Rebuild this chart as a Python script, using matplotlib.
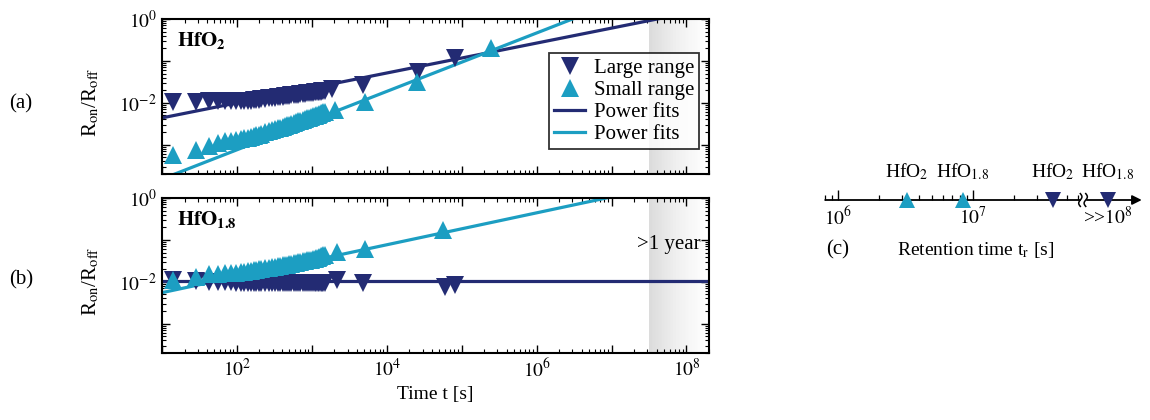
import numpy as np
import matplotlib
matplotlib.use("Agg")
import matplotlib.pyplot as plt
from matplotlib.lines import Line2D
from matplotlib.ticker import FixedLocator, FuncFormatter, LogLocator, NullFormatter

plt.rcParams['font.family'] = ['Liberation Serif', 'DejaVu Serif']
plt.rcParams['mathtext.fontset'] = 'stix'
plt.rcParams['axes.unicode_minus'] = False

NAVY = '#232b73'
TEAL = '#1c9ec2'

# ---- data ----
# dense early measurement times [s], shared by all four series
t_dense = [14, 28, 42, 56, 70, 84, 98, 112, 126, 140, 154, 168, 182, 196, 210,
           238, 266, 294, 322, 350, 378, 406, 434, 462, 490, 532, 574, 616, 658,
           700, 756, 812, 868, 924, 980, 1036, 1092, 1148, 1204, 1260, 1316,
           1372, 1428, 1484]

# (a) HfO2
a_large_dense = [0.0105, 0.0107, 0.0108, 0.0110, 0.0110, 0.0111, 0.0111, 0.0112,
                 0.0112, 0.0112, 0.0113, 0.0114, 0.0116, 0.0118, 0.0120, 0.0124,
                 0.0127, 0.0130, 0.0133, 0.0135, 0.0138, 0.0140, 0.0143, 0.0145,
                 0.0147, 0.0150, 0.0152, 0.0155, 0.0157, 0.0160, 0.0163, 0.0165,
                 0.0168, 0.0171, 0.0173, 0.0175, 0.0177, 0.0180, 0.0182, 0.0183,
                 0.0185, 0.0187, 0.0189, 0.0191]
a_large_t = [1850, 4800, 26000, 81000]
a_large = [0.0215, 0.027, 0.055, 0.118]

a_small_dense = [5.75e-4, 7.6e-4, 9.5e-4, 1.12e-3, 1.20e-3, 1.26e-3, 1.32e-3,
                 1.37e-3, 1.42e-3, 1.46e-3, 1.52e-3, 1.60e-3, 1.67e-3, 1.75e-3,
                 1.82e-3, 1.96e-3, 2.09e-3, 2.22e-3, 2.34e-3, 2.46e-3, 2.57e-3,
                 2.69e-3, 2.79e-3, 2.90e-3, 3.01e-3, 3.17e-3, 3.32e-3, 3.47e-3,
                 3.60e-3, 3.74e-3, 3.93e-3, 4.10e-3, 4.27e-3, 4.44e-3, 4.59e-3,
                 4.75e-3, 4.91e-3, 5.06e-3, 5.24e-3, 5.42e-3, 5.61e-3, 5.81e-3,
                 6.00e-3, 6.18e-3]
a_small_t = [2050, 5100, 25000, 250000]
a_small = [0.0068, 0.0107, 0.032, 0.2]

# (b) HfO1.8
b_large_dense = [0.0112, 0.0105, 0.0100, 0.0098, 0.0097, 0.0097, 0.0096, 0.0096,
                 0.0096, 0.0095, 0.0095, 0.0095, 0.0095, 0.0095, 0.0095, 0.0095,
                 0.0095, 0.0095, 0.0095, 0.0095, 0.0095, 0.0095, 0.0095, 0.0095,
                 0.0095, 0.0095, 0.0095, 0.0095, 0.0095, 0.0095, 0.0095, 0.0095,
                 0.0095, 0.0095, 0.0095, 0.0095, 0.0095, 0.0095, 0.0095, 0.0095,
                 0.0095, 0.0095, 0.0095, 0.0095]
b_large_t = [2140, 4800, 59000, 81000]
b_large = [0.0112, 0.0093, 0.0077, 0.0085]

b_small_dense = [0.0112, 0.0132, 0.0151, 0.0155, 0.0158, 0.0161, 0.0163, 0.0169,
                 0.0175, 0.0180, 0.0186, 0.0190, 0.0195, 0.0199, 0.0203, 0.0210,
                 0.0217, 0.0223, 0.0230, 0.0235, 0.0240, 0.0245, 0.0251, 0.0258,
                 0.0263, 0.0271, 0.0279, 0.0286, 0.0293, 0.0300, 0.0309, 0.0317,
                 0.0325, 0.0333, 0.0340, 0.0347, 0.0354, 0.0361, 0.0378, 0.0390,
                 0.0402, 0.0414, 0.0427, 0.0437]
b_small_t = [2140, 5100, 56000]
b_small = [0.051, 0.061, 0.17]

# power fits R = A * t^b  -> (A, b)
a_large_fit = (1.92e-3, 0.357)
a_small_fit = (3.05e-5, 0.697)
b_large_fit = (1.057e-2, 0.0)
b_small_fit = (2.29e-3, 0.381)

one_year = 3.15e7

# (c) retention times [s]
c_times = [3.24e6, 8.4e6, 3.9e7, 1.0e8]
c_labels = [r'HfO$_2$', r'HfO$_{1.8}$', r'HfO$_2$', r'HfO$_{1.8}$']
c_colors = [TEAL, TEAL, NAVY, NAVY]
c_markers = ['^', '^', 'v', 'v']

# ---- figure ----
W, H = 1150, 420
fig = plt.figure(figsize=(W / 100, H / 100), dpi=100)


def px_axes(left, top, right, bottom):
    return fig.add_axes([left / W, 1 - bottom / H, (right - left) / W, (bottom - top) / H])


ax_a = px_axes(162, 19, 709, 174)
ax_b = px_axes(162, 198, 709, 353)

t_fit = np.array([10.0, 2e8])
ms = 13

panels = [
    (ax_a, a_large_dense, a_large_t, a_large, a_small_dense, a_small_t, a_small,
     a_large_fit, a_small_fit, r'$\mathbf{HfO_2}$'),
    (ax_b, b_large_dense, b_large_t, b_large, b_small_dense, b_small_t, b_small,
     b_large_fit, b_small_fit, r'$\mathbf{HfO_{1.8}}$'),
]

for (ax, ld, lt, lv, sd, st, sv, lfit, sfit, title) in panels:
    ax.set_xscale('log')
    ax.set_yscale('log')
    ax.set_xlim(10, 2e8)
    ax.set_ylim(2e-4, 1)

    # >1 year shading, grey fading to white
    edges = np.logspace(np.log10(one_year), np.log10(2e8), 41)
    shade = np.linspace(0.0, 1.0, 40)[None, :]
    ax.pcolormesh(edges, [2e-4, 1], shade, cmap='Greys_r', vmin=-3.2, vmax=1.0,
                  shading='flat', zorder=0)

    ax.plot(t_fit, lfit[0] * t_fit ** lfit[1], color=NAVY, lw=2.3, zorder=2)
    ax.plot(t_fit, sfit[0] * t_fit ** sfit[1], color=TEAL, lw=2.3, zorder=2)

    ax.plot(t_dense + lt, ld + lv, 'v', color=NAVY, ms=ms, mew=0, zorder=3)
    ax.plot(t_dense + st, sd + sv, '^', color=TEAL, ms=ms, mew=0, zorder=4)

    ax.text(0.028, 0.86, title, transform=ax.transAxes, fontsize=15,
            ha='left', va='center')

    ax.xaxis.set_major_locator(FixedLocator([10.0 ** k for k in range(1, 9)]))
    ax.xaxis.set_minor_locator(LogLocator(base=10, subs=np.arange(2, 10), numticks=20))
    ax.xaxis.set_minor_formatter(NullFormatter())
    ax.yaxis.set_major_locator(FixedLocator([1e-3, 1e-2, 1e-1, 1.0]))
    ax.yaxis.set_minor_locator(LogLocator(base=10, subs=np.arange(2, 10), numticks=20))
    ax.yaxis.set_minor_formatter(NullFormatter())
    ax.yaxis.set_major_formatter(FuncFormatter(
        lambda v, p: r'$10^{%d}$' % round(np.log10(v)) if round(np.log10(v)) in (0, -2) else ''))
    ax.xaxis.set_major_formatter(FuncFormatter(
        lambda v, p: r'$10^{%d}$' % round(np.log10(v)) if round(np.log10(v)) % 2 == 0 else ''))
    ax.tick_params(which='both', direction='in', top=True, right=True, labelsize=14)
    ax.tick_params(which='major', length=6, width=1.0)
    ax.tick_params(which='minor', length=3, width=0.8)
    for sp in ax.spines.values():
        sp.set_linewidth(1.5)

ax_a.tick_params(labelbottom=False)
ax_b.set_xlabel('Time t [s]', fontsize=14, labelpad=4)

ax_b.text(0.985, 0.70, '>1 year', transform=ax_b.transAxes, fontsize=15,
          ha='right', va='center')

handles = [
    Line2D([], [], ls='none', marker='v', color=NAVY, ms=ms, mew=0),
    Line2D([], [], ls='none', marker='^', color=TEAL, ms=ms, mew=0),
    Line2D([], [], color=NAVY, lw=2.3),
    Line2D([], [], color=TEAL, lw=2.3),
]
leg = ax_a.legend(handles, ['Large range', 'Small range', 'Power fits', 'Power fits'],
                  loc='upper right', bbox_to_anchor=(0.982, 0.78), fontsize=15,
                  frameon=True, fancybox=False, borderpad=0.25, labelspacing=0.12,
                  handlelength=1.5, handletextpad=0.4, borderaxespad=0.0)
leg.get_frame().set_edgecolor('black')
leg.get_frame().set_linewidth(1.3)

ylab = r'R$_{\mathrm{on}}$/R$_{\mathrm{off}}$'
fig.text(91 / W, 1 - 102 / H, ylab, rotation=90, fontsize=15, ha='center', va='center')
fig.text(91 / W, 1 - 281 / H, ylab, rotation=90, fontsize=15, ha='center', va='center')
fig.text(21 / W, 1 - 104 / H, '(a)', fontsize=15, ha='center', va='center')
fig.text(21 / W, 1 - 280 / H, '(b)', fontsize=15, ha='center', va='center')

# ---- (c) retention time axis ----
ax_c = px_axes(824.5, 180, 1141.75, 220)
ax_c.set_xscale('log')
ax_c.set_xlim(10 ** 5.9, 10 ** 8.25)
ax_c.set_ylim(-1, 1)
for sp in ax_c.spines.values():
    sp.set_visible(False)
ax_c.patch.set_visible(False)
ax_c.set_yticks([])
ax_c.annotate('', xy=(10 ** 8.25, 0), xytext=(10 ** 5.905, 0),
              arrowprops=dict(arrowstyle='-|>', color='black', lw=1.3,
                              mutation_scale=14, shrinkA=0, shrinkB=0))
ax_c.set_xticks([1e6, 1e7])
ax_c.set_xticklabels(['', ''])
minor_c = [8e5, 9e5] + [k * 1e6 for k in range(2, 10)] + [k * 1e7 for k in range(2, 7)]
ax_c.xaxis.set_minor_locator(FixedLocator(minor_c))
ax_c.xaxis.set_minor_formatter(NullFormatter())
ax_c.tick_params(axis='x', which='both', direction='in', bottom=True, pad=0)
ax_c.tick_params(axis='x', which='major', length=7, width=1.0)
ax_c.tick_params(axis='x', which='minor', length=3.5, width=0.9)
ax_c.xaxis.set_ticks_position('bottom')
ax_c.spines['bottom'].set_position(('data', 0))

# axis break
brk = np.linspace(-1, 1, 30)
ax_c.fill_betweenx([-0.08, 0.08], 10 ** 7.80, 10 ** 7.83, color='white', zorder=3)
for x0 in (7.795, 7.835):
    ax_c.plot(10 ** (x0 + 0.012 * np.sin(np.pi * brk)), 0.32 * brk, color='black',
              lw=1.1, zorder=4, clip_on=False)

for tv, lab, col, mk in zip(c_times, c_labels, c_colors, c_markers):
    ax_c.plot([tv], [0], mk, color=col, ms=12, mew=0, zorder=5, clip_on=False)
    ax_c.text(tv, 1.4, lab, fontsize=14, ha='center', va='center')

ax_c.text(1e6, -0.85, r'$10^{6}$', fontsize=14, ha='center', va='center')
ax_c.text(1e7, -0.85, r'$10^{7}$', fontsize=14, ha='center', va='center')
ax_c.text(1e8, -0.85, r'>>$10^{8}$', fontsize=14, ha='center', va='center')

fig.text(838 / W, 1 - 250 / H, '(c)', fontsize=15, ha='center', va='center')
fig.text(976 / W, 1 - 250 / H, r'Retention time t$_\mathrm{r}$ [s]', fontsize=14,
         ha='center', va='center')

fig.savefig('out.png', dpi=100)
